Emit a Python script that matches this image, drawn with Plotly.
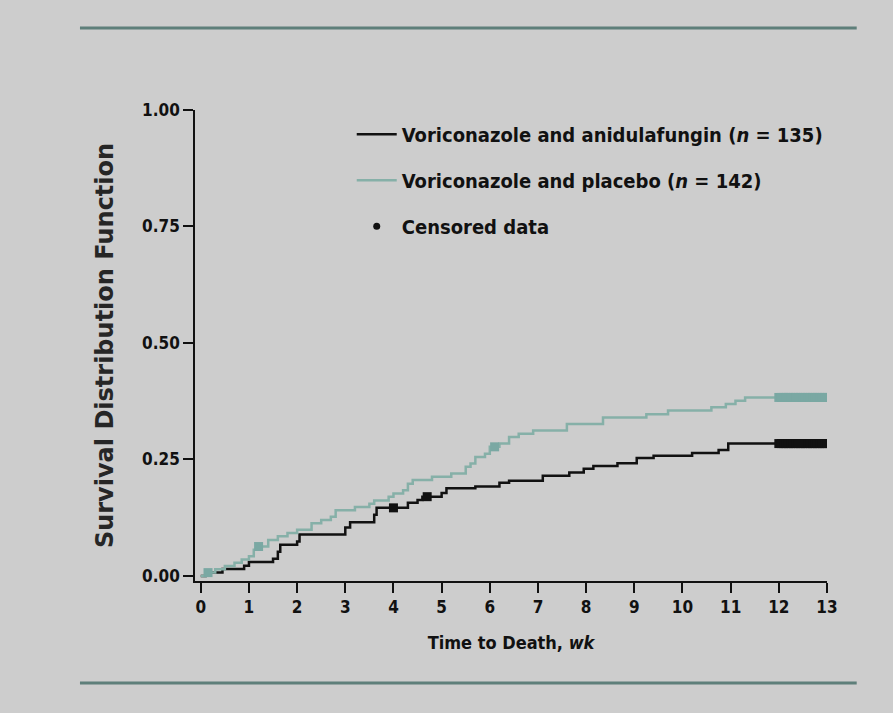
import plotly.graph_objects as go

# Voriconazole + anidulafungin (black) step curve
anid_t = [0, 0.1, 0.45, 0.9, 1.0, 1.5, 1.6, 1.65, 2.0, 2.05, 3.0, 3.1, 3.6, 3.65, 4.3, 4.5, 4.6,
          5.0, 5.1, 5.7, 6.2, 6.4, 7.1, 7.65, 7.95, 8.15, 8.65, 9.05, 9.4, 10.2, 10.75, 10.95, 13.0]
anid_s = [0, 0.007, 0.015, 0.022, 0.030, 0.037, 0.052, 0.067, 0.074, 0.089, 0.104, 0.115, 0.131, 0.146,
          0.157, 0.163, 0.170, 0.178, 0.188, 0.192, 0.200, 0.204, 0.215, 0.222, 0.230, 0.236, 0.242,
          0.253, 0.258, 0.264, 0.270, 0.284, 0.284]
anid_cens_t = [4.0, 4.7, 12.0, 12.05, 12.1, 12.15, 12.2, 12.25, 12.3, 12.35, 12.4, 12.45, 12.5, 12.55,
               12.6, 12.65, 12.7, 12.75, 12.8, 12.85, 12.9, 12.95, 13.0]
anid_cens_s = [0.146, 0.170] + [0.284] * 21

# Voriconazole + placebo (teal) step curve
plac_t = [0, 0.1, 0.3, 0.5, 0.7, 0.85, 1.0, 1.1, 1.2, 1.4, 1.6, 1.8, 2.0, 2.3, 2.5, 2.7, 2.8, 3.2, 3.5,
          3.6, 3.9, 4.0, 4.2, 4.3, 4.4, 4.8, 5.2, 5.5, 5.6, 5.7, 5.9, 6.0, 6.2, 6.4, 6.6, 6.9, 7.6, 8.35,
          9.25, 9.7, 10.6, 10.9, 11.1, 11.3, 13.0]
plac_s = [0, 0.007, 0.014, 0.021, 0.028, 0.035, 0.042, 0.056, 0.063, 0.077, 0.085, 0.092, 0.099, 0.113,
          0.120, 0.127, 0.141, 0.148, 0.155, 0.162, 0.170, 0.177, 0.184, 0.198, 0.206, 0.213, 0.220,
          0.234, 0.241, 0.255, 0.262, 0.277, 0.284, 0.298, 0.305, 0.312, 0.326, 0.340, 0.347, 0.355,
          0.362, 0.369, 0.376, 0.383, 0.383]
plac_cens_t = [0.15, 1.2, 6.1, 12.0, 12.05, 12.1, 12.15, 12.2, 12.25, 12.3, 12.35, 12.4, 12.45, 12.5,
               12.55, 12.6, 12.65, 12.7, 12.75, 12.8, 12.85, 12.9, 12.95, 13.0]
plac_cens_s = [0.007, 0.063, 0.277] + [0.383] * 21

x_ticks = list(range(0, 14))
y_ticks = [0.0, 0.25, 0.5, 0.75, 1.0]
y_tick_text = ["0.00", "0.25", "0.50", "0.75", "1.00"]

BLACK = "#111111"
TEAL = "#86b0a8"
BG = "#cdcdcd"
NARROW = "DejaVu Sans Condensed, Liberation Sans, sans-serif"

fig = go.Figure()
fig.add_trace(go.Scatter(x=anid_t, y=anid_s, mode="lines", line=dict(color=BLACK, width=2.5, shape="hv"),
                         name="Voriconazole and anidulafungin (<i>n</i> = 135)", legendgroup="a"))
fig.add_trace(go.Scatter(x=plac_t, y=plac_s, mode="lines", line=dict(color=TEAL, width=2.5, shape="hv"),
                         name="Voriconazole and placebo (<i>n</i> = 142)", legendgroup="b"))
fig.add_trace(go.Scatter(x=anid_cens_t, y=anid_cens_s, mode="markers",
                         marker=dict(symbol="square", size=9, color=BLACK), showlegend=False))
fig.add_trace(go.Scatter(x=plac_cens_t, y=plac_cens_s, mode="markers",
                         marker=dict(symbol="square", size=9, color="#7aa8a3"), showlegend=False))
fig.add_trace(go.Scatter(x=[None], y=[None], mode="markers", marker=dict(symbol="circle", size=7, color=BLACK),
                         name="Censored data", legendgroup="c"))

axis_common = dict(showline=True, linecolor=BLACK, linewidth=1.5, ticks="outside", ticklen=10,
                   tickwidth=1.5, tickcolor=BLACK, showgrid=False, zeroline=False,
                   tickfont=dict(family=NARROW, size=17, color=BLACK, weight="bold"))

fig.update_layout(
    width=893, height=713,
    margin=dict(l=195, r=66, t=110, b=132),
    paper_bgcolor=BG, plot_bgcolor=BG,
    xaxis=dict(range=[-0.12, 13.0], tickvals=x_ticks, **axis_common,
               title=dict(text="Time to Death, <i>wk</i>", standoff=20,
                          font=dict(family=NARROW, size=18, color=BLACK, weight="bold"))),
    yaxis=dict(range=[-0.011, 1.0], tickvals=y_ticks, ticktext=y_tick_text, **axis_common,
               title=dict(text="Survival Distribution Function", standoff=22,
                          font=dict(family="DejaVu Sans", size=24, color="#262626", weight="bold"))),
    legend=dict(x=0.248, y=0.99, xanchor="left", yanchor="top", bgcolor="rgba(0,0,0,0)",
                font=dict(family=NARROW, size=20, color=BLACK, weight="bold"),
                tracegroupgap=17, itemwidth=40),
    showlegend=True,
    shapes=[
        dict(type="line", xref="paper", yref="paper", x0=-0.182, x1=1.047, y0=1.174, y1=1.174,
             line=dict(color="#5e7f7a", width=3)),
        dict(type="line", xref="paper", yref="paper", x0=-0.182, x1=1.047, y0=-0.2166, y1=-0.2166,
             line=dict(color="#5e7f7a", width=3)),
    ],
)

fig.write_html("out.html")
